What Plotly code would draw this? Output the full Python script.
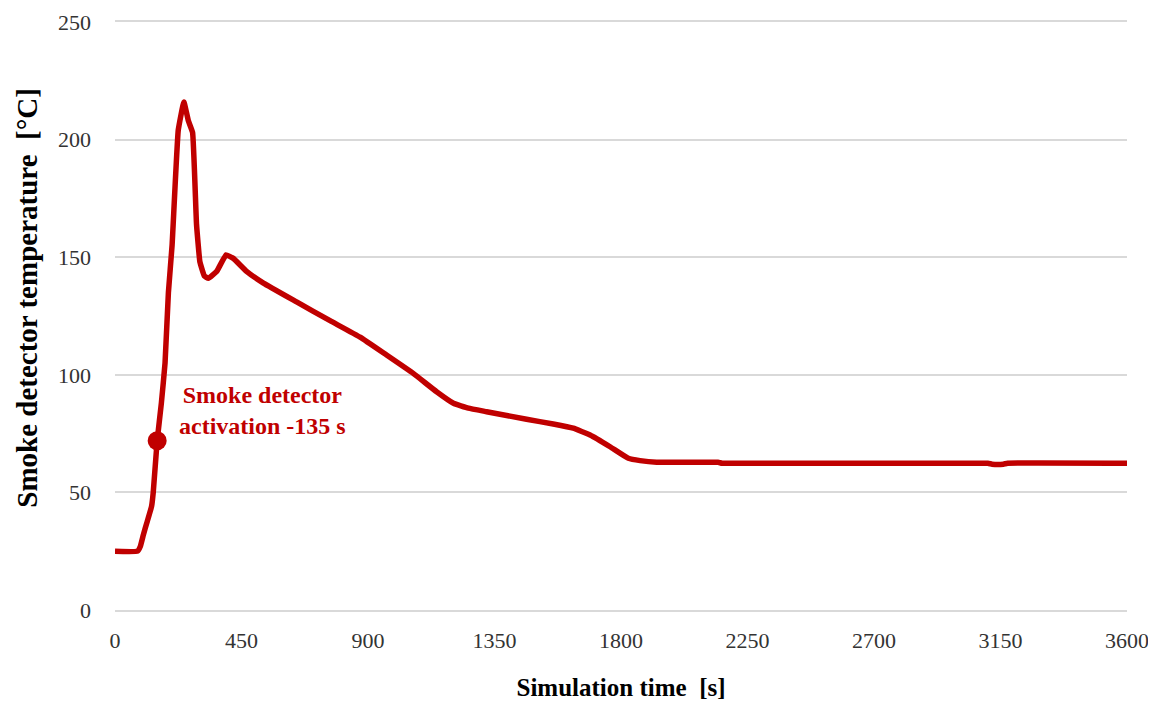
import plotly.graph_objects as go

time_s = [0, 80, 90, 101, 113, 130, 136, 150, 165, 178, 190, 203, 225, 245, 261, 276,
          290, 302, 318, 332, 362, 395, 421, 468, 528, 646, 765, 872, 966, 1061, 1144,
          1204, 1257, 1322, 1464, 1559, 1630, 1690, 1761, 1826, 1868, 1927, 2145, 2160,
          3105, 3120, 3160, 3175, 3600]
temp_c = [25, 25, 27, 32, 37, 44, 50, 72, 88, 105, 135, 155, 204, 216, 208, 203,
          164, 148, 142, 141, 144, 151, 149.5, 144, 139, 131, 123, 116, 108.4, 100.6, 92.8,
          87.9, 85.8, 84.3, 81.1, 79.1, 77.3, 74.4, 69.4, 64.5, 63.5, 62.8, 62.8, 62.4,
          62.4, 62.0, 62.0, 62.4, 62.4]

activation_time = [150]
activation_temp = [72]
x_ticks = [0, 450, 900, 1350, 1800, 2250, 2700, 3150, 3600]
y_ticks = [0, 50, 100, 150, 200, 250]

red = "#C00000"
grid = "#D9D9D9"
font_family = "Liberation Serif, Times New Roman, serif"

fig = go.Figure()
fig.add_trace(go.Scatter(x=time_s, y=temp_c, mode="lines",
                         line=dict(color=red, width=5.5, shape="spline", smoothing=0.3),
                         showlegend=False, hoverinfo="skip"))
fig.add_trace(go.Scatter(x=activation_time, y=activation_temp, mode="markers",
                         marker=dict(color=red, size=19),
                         showlegend=False))

fig.add_annotation(x=523, y=85, xref="x", yref="y",
                   text="<b>Smoke detector<br>activation -135 s</b>",
                   showarrow=False, align="center", xanchor="center", yanchor="middle",
                   font=dict(family=font_family, size=24, color=red))

# y-axis title as rotated annotation (positioned slightly above plot centre as in reference)
fig.add_annotation(x=-0.087, y=0.531, xref="paper", yref="paper",
                   text="<b>Smoke detector temperature  [°C]</b>", textangle=-90,
                   showarrow=False, xanchor="center", yanchor="middle",
                   font=dict(family=font_family, size=29, color="black"))

fig.update_layout(
    width=1148, height=694,
    margin=dict(l=107, r=29, t=14, b=92),
    plot_bgcolor="white", paper_bgcolor="white",
    font=dict(family=font_family, size=22, color="#333333"),
)
fig.update_xaxes(range=[0, 3600], tickvals=x_ticks, ticktext=[str(v) for v in x_ticks],
                 showgrid=False, zeroline=False,
                 showline=True, linecolor=grid, linewidth=1.5, mirror=True,
                 ticks="", ticklabelstandoff=10, automargin=False,
                 tickfont=dict(family=font_family, size=22, color="#333333"),
                 title=dict(text="<b>Simulation time  [s]</b>", standoff=26,
                            font=dict(family=font_family, size=25, color="black")))
fig.update_yaxes(range=[0, 250], tickvals=y_ticks, ticktext=[str(v) for v in y_ticks],
                 showgrid=True, gridcolor=grid, gridwidth=1.5,
                 zeroline=False, showline=False, ticks="", ticklabelstandoff=23,
                 automargin=False,
                 tickfont=dict(family=font_family, size=22, color="#333333"))

fig.write_html("out.html")
